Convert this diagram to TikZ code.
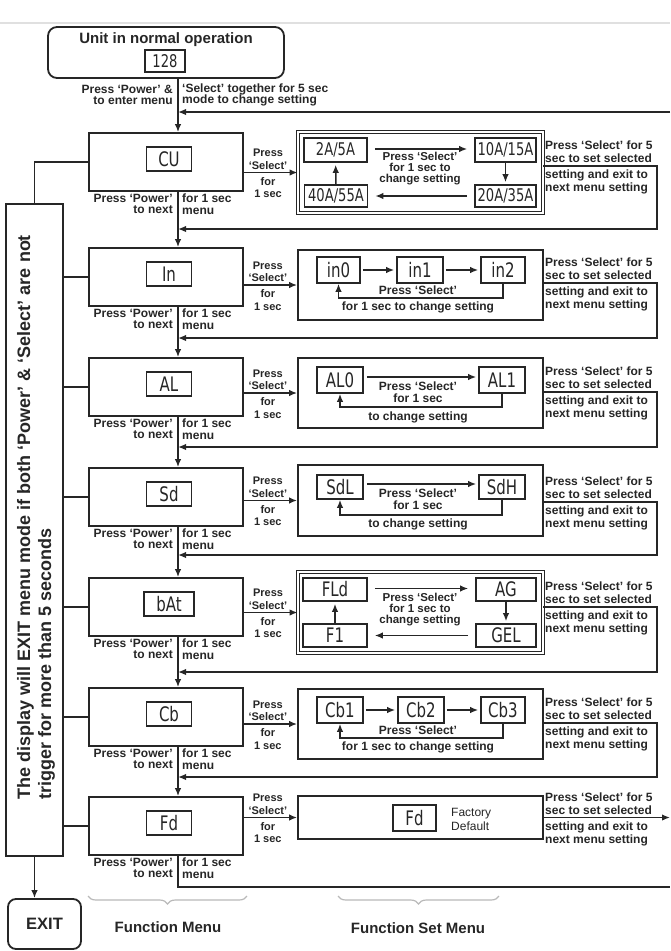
\documentclass[tikz,border=0pt]{standalone}
\usepackage{fontspec}
\setmainfont{Liberation Sans}
\newfontfamily\segfont[FakeStretch=0.75]{DejaVu Sans}
\usetikzlibrary{arrows.meta,decorations.pathreplacing}
\colorlet{ink}{black!85}
\tikzset{
  lbl/.style={font=\bfseries\fontsize{12}{11.5}\selectfont, text=ink, inner sep=0pt, align=center},
  sel/.style={lbl, font=\bfseries\fontsize{11}{12.5}\selectfont},
  side/.style={lbl, align=left, font=\bfseries\fontsize{12}{13}\selectfont},
  three/.style={lbl, font=\bfseries\fontsize{11.5}{11}\selectfont},
  menubox/.style={draw=ink, line width=1.8pt, minimum width=154, minimum height=58},
  setbox/.style={draw=ink, line width=1.8pt, minimum width=245},
  dblbox/.style={draw=ink, double, line width=0.9pt, double distance=1.3pt, minimum width=245},
  seg/.style={draw=ink, line width=1.6pt, inner sep=0pt, minimum height=24, text=ink,
    font=\segfont\fontsize{20}{20}\selectfont},
  wide/.style={font=\segfont\fontsize{17.5}{17.5}\selectfont},
  conn/.style={draw=ink, line width=1.5pt},
  arr/.style={-{Latex[length=8pt,width=6.5pt]}},
  gap/.style={shorten <=7pt, shorten >=7pt},
}
\begin{document}
\begin{tikzpicture}[x=1pt,y=-1pt]
\useasboundingbox (0,0) rectangle (670,951);
\draw[black!12, line width=1.2pt] (0,23) -- (670,23);
% Estado inicial
\node[draw=ink, line width=1.8pt, rounded corners=9pt, minimum width=236, minimum height=51] (unit) at (166,52.5) {};
\node[lbl, font=\bfseries\fontsize{15}{15}\selectfont] (unittxt) at (166,40) {Unit in normal operation};
\node[seg, wide, minimum width=40, minimum height=22] (d128) at (165,61) {128};
\node[lbl, anchor=east, align=right] (entl) at (173,95) {Press `Power' \&\\to enter menu};
\node[lbl, anchor=west, align=left] (entr) at (182,95) {`Select' together for 5 sec\\mode to change setting};
% Nota de salida
\node[draw=ink, line width=1.8pt, minimum width=57, minimum height=652] (note) at (34.5,530) {};
\node[lbl, rotate=90, anchor=west, align=left, font=\bfseries\fontsize{18}{21}\selectfont] (notetxt) at (36,800)
  {The display will EXIT menu mode if both `Power' \& `Select' are not\\trigger for more than 5 seconds};
\node[draw=ink, line width=1.8pt, rounded corners=8pt, minimum width=73, minimum height=50, text=ink,
  font=\bfseries\fontsize{16.5}{16.5}\selectfont] (exit) at (44.5,924) {EXIT};
% Menu de funciones
\foreach \n/\lab/\y/\w in {cu/CU/162/45, inm/In/277/45, al/AL/387/45, sd/Sd/497/45,
    bat/bAt/607/50, cb/Cb/717/45, fd/Fd/826/45} {
  \node[menubox] (\n) at (166,\y) {};
  \node[seg, minimum width=\w] (d\n) at (169,\y-3) {\lab};
  \node[lbl, anchor=north east, align=right] (pw\n) at (173,\y+32) {Press `Power'\\to next};
  \node[lbl, anchor=north west, align=left] (nx\n) at (182,\y+32) {for 1 sec\\menu};
  \coordinate (v\n) at ([xshift=12]\n.south);
}
% Flechas verticales
\coordinate (topin) at (670,112);
\coordinate (botout) at (670,887);
\draw[conn, arr] ([xshift=12]unit.south) -- ([xshift=12]cu.north);
\foreach \a/\b in {cu/inm, inm/al, al/sd, sd/bat, bat/cb, cb/fd}
  \draw[conn, arr] (v\a) -- ([xshift=12]\b.north);
\draw[conn, arr] (topin) -- (topin -| vcu);
\draw[conn] (vfd) |- (botout);
% Enlaces a la nota
\draw[conn] (cu.west) -| (note.north);
\foreach \n in {inm, al, sd, bat, cb, fd}
  \draw[conn] (\n.west) -- (note.east |- \n.west);
\draw[conn, arr] (note.south) -- (note.south |- exit.north);
% Menu de ajustes
\node[dblbox, minimum height=81] (scu) at (420.5,172.5) {};
\node[setbox, minimum height=70] (sinm) at (420.5,285) {};
\node[setbox, minimum height=70] (sal) at (420.5,393) {};
\node[setbox, minimum height=71] (ssd) at (420.5,500.5) {};
\node[dblbox, minimum height=81] (sbat) at (420.5,612.5) {};
\node[setbox, minimum height=70] (scb) at (420.5,724) {};
\node[setbox, minimum height=43] (sfd) at (420.5,817.5) {};
\foreach \n in {cu, inm, al, sd, bat, cb, fd}
  \draw[conn, arr] (\n.east |- s\n.west) --
    node[sel, pos=0.45, above=2.5pt] (ps\n) {Press\\`Select'}
    node[sel, pos=0.45, below=4pt] (fs\n) {for\\1 sec} (s\n.west);
% Textos de la derecha
\foreach \n/\ly/\ry in {cu/166/229, inm/283/338, al/392/447, sd/502/555, bat/607/672, cb/723/777} {
  \draw[conn, arr] (s\n.east |- 0,\ly) -- (657,\ly) |- (v\n |- 0,\ry);
  \node[side, anchor=south west] (ok\n) at (545,\ly-3) {Press `Select' for 5\\sec to set selected};
  \node[side, anchor=north west] (ex\n) at (545,\ly+4) {setting and exit to\\next menu setting};
}
\coordinate (out) at (670,817.5);
\draw[conn, arr] (sfd.east) -- (out);
\node[side, anchor=south west] (okfd) at (545,814.5) {Press `Select' for 5\\sec to set selected};
\node[side, anchor=north west] (exfd) at (545,821.5) {setting and exit to\\next menu setting};
% Ajuste CU
\node[seg, wide, minimum width=63] (a2) at (335.5,150) {2A/5A};
\node[seg, wide, minimum width=61] (a10) at (505.5,150) {10A/15A};
\node[seg, wide, minimum width=63, minimum height=22] (a40) at (336,196) {40A/55A};
\node[seg, wide, minimum width=61, minimum height=22] (a20) at (505.5,196) {20A/35A};
\draw[conn, arr, gap] ([yshift=1pt]a2.east) -- ([yshift=1pt]a10.west);
\draw[conn, arr, shorten >=2pt] (a10) -- (a20);
\draw[conn, arr, gap] (a20) -- (a40);
\draw[conn, arr, shorten >=2pt] (a40) -- (a2);
\node[three] (tcu) at (420,169) {Press `Select'\\for 1 sec to\\change setting};
% Ajuste In
\node[seg, minimum width=43, minimum height=26] (i0) at (338.5,270) {in0};
\node[seg, minimum width=46, minimum height=26] (i1) at (420,270) {in1};
\node[seg, minimum width=44, minimum height=26] (i2) at (503,270) {in2};
\draw[conn, arr, shorten <=2pt, shorten >=2pt] (i0) -- (i1);
\draw[conn, arr, shorten <=2pt, shorten >=2pt] (i1) -- (i2);
\draw[conn, arr] (i2.south) -- (i2.south |- 0,298) -| (i0.south);
\node[lbl] (ti1) at (418,290.5) {Press `Select'};
\node[lbl] (ti2) at (418,307) {for 1 sec to change setting};
% Ajuste AL
\node[seg, minimum width=46, minimum height=26] (l0) at (340,380) {AL0};
\node[seg, minimum width=46, minimum height=26] (l1) at (502,380) {AL1};
\draw[conn, arr, shorten <=3pt, shorten >=2pt] ([yshift=3pt]l0.east) -- ([yshift=3pt]l1.west);
\draw[conn, arr] (l1.south) -- (l1.south |- 0,407) -| (l0.south);
\node[lbl] (tl1) at (418,392) {Press `Select'\\for 1 sec};
\node[lbl] (tl2) at (418,417) {to change setting};
% Ajuste Sd
\node[seg, minimum width=46] (sdl) at (340,487) {SdL};
\node[seg, minimum width=46] (sdh) at (502,487) {SdH};
\draw[conn, arr, shorten <=3pt, shorten >=2pt] ([yshift=3pt]sdl.east) -- ([yshift=3pt]sdh.west);
\draw[conn, arr] (sdh.south) -- (sdh.south |- 0,515) -| (sdl.south);
\node[lbl] (ts1) at (418,499) {Press `Select'\\for 1 sec};
\node[lbl] (ts2) at (418,524) {to change setting};
% Ajuste bAt
\node[seg, minimum width=64, minimum height=23] (b1) at (335,589.5) {FLd};
\node[seg, minimum width=60, minimum height=23] (b2) at (506,589.5) {AG};
\node[seg, minimum width=64, minimum height=23] (b3) at (335,635.5) {F1};
\node[seg, minimum width=60, minimum height=23] (b4) at (506,635.5) {GEL};
\draw[conn, arr, gap] ([yshift=1pt]b1.east) -- ([yshift=1pt]b2.west);
\draw[conn, arr, shorten >=2pt] (b2) -- (b4);
\draw[conn, arr, gap] (b4) -- (b3);
\draw[conn, arr, shorten >=2pt] (b3) -- (b1);
\node[three] (tb) at (420,610) {Press `Select'\\for 1 sec to\\change setting};
% Ajuste Cb
\node[seg, minimum width=46, minimum height=26] (c1) at (340,710) {Cb1};
\node[seg, minimum width=46, minimum height=26] (c2) at (421,710) {Cb2};
\node[seg, minimum width=44, minimum height=26] (c3) at (503,710) {Cb3};
\draw[conn, arr, shorten <=2pt, shorten >=2pt] (c1) -- (c2);
\draw[conn, arr, shorten <=2pt, shorten >=2pt] (c2) -- (c3);
\draw[conn, arr] (c3.south) -- (c3.south |- 0,738) -| (c1.south);
\node[lbl] (tc1) at (418,730.5) {Press `Select'};
\node[lbl] (tc2) at (418,747) {for 1 sec to change setting};
% Ajuste Fd
\node[seg, minimum width=43, minimum height=26] (f0) at (414.5,818) {Fd};
\node[anchor=west, align=left, text=ink, inner sep=0pt, font=\fontsize{12}{14}\selectfont] (fdef) at (451,819) {Factory\\Default};
% Llaves
\draw[gray!55, line width=1.2pt, decorate, decoration={brace, mirror, amplitude=8pt}] (88,896) -- (247,896);
\draw[gray!55, line width=1.2pt, decorate, decoration={brace, mirror, amplitude=8pt}] (338,896) -- (499,896);
\node[lbl, font=\bfseries\fontsize{15}{15}\selectfont] (fmenu) at (168,927) {Function Menu};
\node[lbl, font=\bfseries\fontsize{15}{15}\selectfont] (fset) at (418,928) {Function Set Menu};
\end{tikzpicture}
\end{document}
